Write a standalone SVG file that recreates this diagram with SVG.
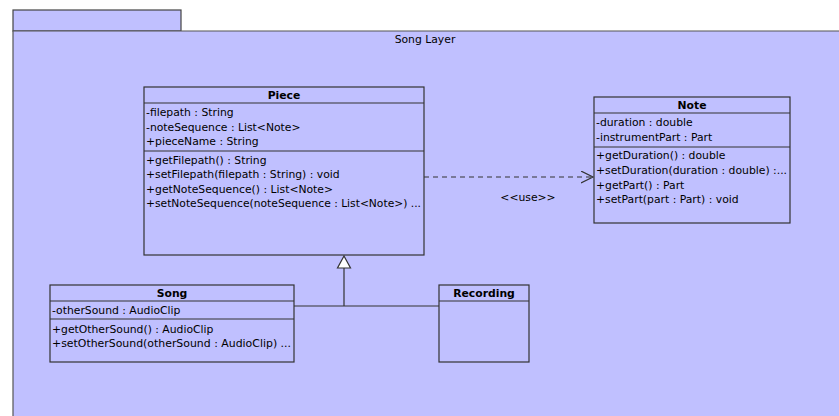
<svg xmlns="http://www.w3.org/2000/svg" width="839" height="416" viewBox="0 0 839 416">
<defs>
<style>
.pkg{fill:#c0c0ff;stroke:#444;stroke-width:1.2}
.box{fill:#c0c0ff;stroke:#333;stroke-width:1.2}
.sep{stroke:#333;stroke-width:1.2}
text{font-family:"DejaVu Sans",sans-serif;font-size:10.8px;fill:#000}
.t{font-weight:bold;text-anchor:middle}
.c{stroke:#333;stroke-width:1.2;fill:none}
</style>
<marker id="open" markerWidth="14" markerHeight="14" refX="12" refY="6" orient="auto" markerUnits="userSpaceOnUse">
<path d="M0,0 L12,6 L0,12" fill="none" stroke="#333" stroke-width="1.2"/>
</marker>
</defs>
<rect x="0" y="0" width="839" height="416" fill="#fff"/>
<g id="package">
<rect class="pkg" x="13" y="10" width="168" height="21"/>
<path d="M13,31 H845 V425 H13 Z" fill="#c0c0ff" stroke="#555" stroke-width="1.2"/>
<text x="425" y="43" style="text-anchor:middle">Song Layer</text>
</g>
<g id="connectors">
<line class="c" x1="424" y1="177" x2="593" y2="177" stroke-dasharray="5,4" marker-end="url(#open)"/>
<text x="528" y="201" style="text-anchor:middle">&lt;&lt;use&gt;&gt;</text>
<path class="c" d="M344,268 V306 M294,306 H439"/>
<path d="M344,256 L350.5,268 H337.5 Z" fill="#fff" stroke="#333" stroke-width="1.2"/>
</g>
<g id="Piece">
<rect class="box" x="144" y="87" width="280" height="168"/>
<line class="sep" x1="144" y1="103" x2="424" y2="103"/>
<line class="sep" x1="144" y1="151" x2="424" y2="151"/>
<text class="t" x="284" y="99">Piece</text>
<text x="146" y="116">-filepath : String</text>
<text x="146" y="131">-noteSequence : List&lt;Note&gt;</text>
<text x="146" y="145">+pieceName : String</text>
<text x="146" y="164">+getFilepath() : String</text>
<text x="146" y="178">+setFilepath(filepath : String) : void</text>
<text x="146" y="193">+getNoteSequence() : List&lt;Note&gt;</text>
<text x="146" y="207" textLength="275" lengthAdjust="spacingAndGlyphs">+setNoteSequence(noteSequence : List&lt;Note&gt;) ...</text>
</g>
<g id="Note">
<rect class="box" x="594" y="97" width="196" height="126"/>
<line class="sep" x1="594" y1="113" x2="790" y2="113"/>
<line class="sep" x1="594" y1="147" x2="790" y2="147"/>
<text class="t" x="692" y="109">Note</text>
<text x="596" y="126">-duration : double</text>
<text x="596" y="141">-instrumentPart : Part</text>
<text x="596" y="159">+getDuration() : double</text>
<text x="596" y="174" textLength="191" lengthAdjust="spacingAndGlyphs">+setDuration(duration : double) :...</text>
<text x="596" y="189">+getPart() : Part</text>
<text x="596" y="203">+setPart(part : Part) : void</text>
</g>
<g id="Song">
<rect class="box" x="50" y="285" width="244" height="77"/>
<line class="sep" x1="50" y1="301" x2="294" y2="301"/>
<line class="sep" x1="50" y1="319" x2="294" y2="319"/>
<text class="t" x="172" y="297">Song</text>
<text x="52" y="314">-otherSound : AudioClip</text>
<text x="52" y="333">+getOtherSound() : AudioClip</text>
<text x="52" y="347" textLength="239" lengthAdjust="spacingAndGlyphs">+setOtherSound(otherSound : AudioClip) ...</text>
</g>
<g id="Recording">
<rect class="box" x="439" y="285" width="90" height="77"/>
<line class="sep" x1="439" y1="301" x2="529" y2="301"/>
<text class="t" x="484" y="297">Recording</text>
</g>
</svg>
